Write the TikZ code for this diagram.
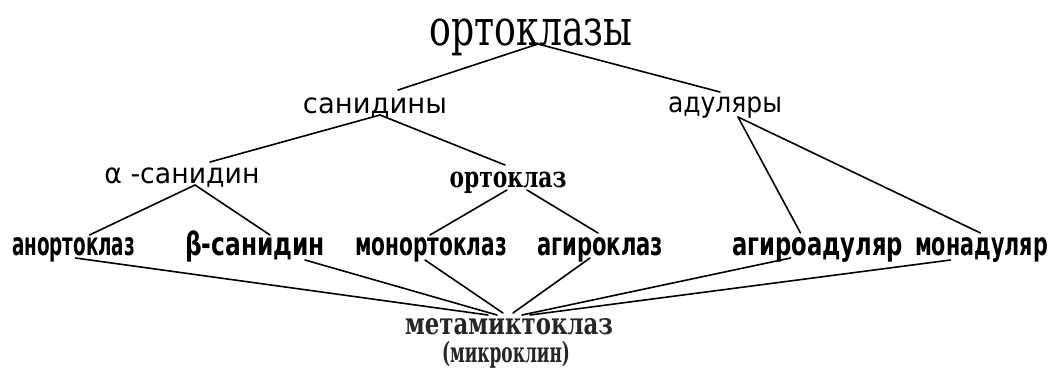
\documentclass[tikz,border=0pt]{standalone}
\usepackage{fontspec}
\usepackage{graphicx}
\newfontfamily\serfont{DejaVu Serif}
\newfontfamily\sanfont{DejaVu Sans}
% squeeze a word to a given width, keeping its height
\newcommand\wfit[2]{\resizebox{#1}{\height}{#2}}
\tikzset{
  lbl/.style={inner sep=0pt, anchor=base},
  head/.style={lbl, font=\serfont\fontsize{50}{50}\selectfont},
  mid/.style={lbl, font=\sanfont\fontsize{28}{28}\selectfont},
  midser/.style={lbl, font=\serfont\bfseries\fontsize{29}{29}\selectfont},
  leaf/.style={lbl, font=\sanfont\bfseries\fontsize{32}{32}\selectfont},
  root/.style={lbl, font=\serfont\bfseries\fontsize{30}{30}\selectfont, text=black!85},
  link/.style={line width=1.6pt, line cap=round}
}
\begin{document}
\begin{tikzpicture}[x=1pt, y=-1pt]
\useasboundingbox[fill=white] (0,0) rectangle (1055,378);

% family tree of potassium feldspars
\node[head] (top) at (531,45) {\wfit{203pt}{ортоклазы}};

\node[mid] (san) at (375,113) {\wfit{144pt}{санидины}};
\node[mid] (ad)  at (725,112) {\wfit{114pt}{адуляры}};

\node[mid]    (alpha) at (182,183) {\wfit{155pt}{α -санидин}};
\node[midser] (ort)   at (508,187) {\wfit{117pt}{ортоклаз}};

\node[leaf] (anort)  at (73.5,255) {\wfit{123pt}{анортоклаз}};
\node[leaf] (beta)   at (255,255)  {\wfit{140pt}{β-санидин}};
\node[leaf] (monort) at (431,255)  {\wfit{152pt}{монортоклаз}};
\node[leaf] (agir)   at (600,255)  {\wfit{126pt}{агироклаз}};
\node[leaf] (agad)   at (817.5,255){\wfit{171pt}{агироадуляр}};
\node[leaf] (monad)  at (981.5,255){\wfit{133pt}{монадуляр}};

\node[root] (meta)  at (509,334) {\wfit{208pt}{метамиктоклаз}};
\node[root,font=\serfont\bfseries\fontsize{28}{28}\selectfont]
            (mikro) at (506,362) {\wfit{128pt}{(микроклин)}};

% branches
\draw[link] ([shift={(7,-1)}]top.base) -- ([shift={(23,-23)}]san.base);
\draw[link] ([shift={(7,-1)}]top.base) -- ([shift={(-5,-20)}]ad.base);

\draw[link] ([shift={(5,2)}]san.base) -- ([shift={(28,-21)}]alpha.base);
\draw[link] ([shift={(5,2)}]san.base) -- ([shift={(-3,-22)}]ort.base);

\draw[link] ([shift={(13,5)}]ad.base) -- ([shift={(-17,-22)}]agad.base);
\draw[link] ([shift={(13,5)}]ad.base) -- ([shift={(-1,-22)}]monad.base);

\draw[link] ([shift={(13,2)}]alpha.base) -- ([shift={(16,-20)}]anort.base);
\draw[link] ([shift={(13,2)}]alpha.base) -- ([shift={(15,-20)}]beta.base);

\draw[link] ([shift={(-1,3)}]ort.base) -- ([shift={(-1,-20)}]monort.base);
\draw[link] ([shift={(19,3)}]ort.base) -- ([shift={(-2,-22)}]agir.base);

% all lines converge on the final product
\draw[link] ([shift={(2,3)}]anort.base)   -- ([shift={(-21,-19)}]meta.base);
\draw[link] ([shift={(50,5)}]beta.base)   -- ([shift={(-12,-19)}]meta.base);
\draw[link] ([shift={(-6,5)}]monort.base) -- ([shift={(-6,-21)}]meta.base);
\draw[link] ([shift={(-10,3)}]agir.base)  -- ([shift={(4,-21)}]meta.base);
\draw[link] ([shift={(-27,3)}]agad.base)  -- ([shift={(13,-19)}]meta.base);
\draw[link] ([shift={(-31,5)}]monad.base) -- ([shift={(21,-19)}]meta.base);
\end{tikzpicture}
\end{document}
